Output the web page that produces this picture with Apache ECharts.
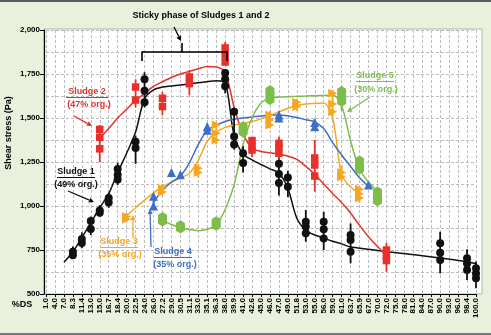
<!DOCTYPE html>
<html><head><meta charset="utf-8">
<script src="https://cdn.jsdelivr.net/npm/echarts@6/dist/echarts.min.js"></script>
<style>html,body{margin:0;padding:0;background:#e9f1dc;} #c{width:491px;height:335px;}</style>
</head><body><div id="c"></div>
<script>
const categories = ['1.0','4.0','7.0','8.3','11.4','13.0','15.0','16.7','18.4','20.0','22.5','24.0','26.0','27.2','29.0','30.5','31.1','33.0','35.1','36.3','38.0','39.9','41.0','42.6','45.0','46.0','47.0','49.0','51.8','53.0','55.0','56.0','59.0','61.0','63.7','65.9','67.0','70.0','72.0','75.0','78.0','81.0','84.0','87.0','90.0','93.0','96.0','98.4','100.0'];
const yTicks = [500, 750, 1000, 1250, 1500, 1750, 2000];

// Sludge 1 (49% org.)
const s1Points = [['8.3',740],['8.3',720],['11.4',812],['11.4',790],['13.0',915],['13.0',870],['15.0',975],['15.0',962],['16.7',1045],['16.7',1020],['18.4',1210],['18.4',1178],['18.4',1150],['22.5',1365],['22.5',1330],['24.0',1720],['24.0',1655],['24.0',1590],['38.0',1756],['38.0',1720],['38.0',1680],['39.9',1535],['39.9',1395],['39.9',1350],['41.0',1300],['41.0',1245],['47.0',1240],['47.0',1182],['47.0',1130],['49.0',1162],['49.0',1110],['53.0',911],['53.0',882],['53.0',845],['56.0',911],['56.0',868],['56.0',816],['63.7',835],['63.7',807],['63.7',740],['90.0',788],['90.0',735],['90.0',693],['98.4',703],['98.4',674],['98.4',636],['100.0',646],['100.0',617],['100.0',589]];
const s1Err = [['8.3',700,770],['11.4',760,850],['13.0',835,940],['15.0',940,1005],['16.7',990,1075],['18.4',1120,1245],['22.5',1240,1400],['24.0',1560,1760],['38.0',1640,1775],['39.9',1320,1560],['41.0',1190,1340],['47.0',1060,1300],['49.0',1050,1200],['53.0',797,977],['56.0',750,967],['63.7',674,901],['90.0',617,854],['98.4',580,754],['100.0',532,684]];
const s1Curve = [['7.0',680],['8.3',740],['11.4',820],['13.0',905],['15.0',990],['16.7',1070],['18.4',1190],['20.0',1300],['22.5',1420],['24.0',1610],['26.0',1660],['27.2',1676],['29.0',1682],['30.5',1688],['31.1',1694],['33.0',1700],['35.1',1706],['36.3',1712],['38.0',1700],['39.9',1400],['41.0',1295],['42.6',1262],['45.0',1236],['46.0',1211],['47.0',1187],['49.0',1100],['51.8',930],['53.0',862],['55.0',835],['56.0',818],['59.0',800],['61.0',785],['63.7',767],['90.0',705],['98.4',683],['100.0',672]];

// Sludge 2 (47% org.)
const s2Points = [['15.0',1435],['15.0',1390],['15.0',1325],['22.5',1676],['22.5',1602],['27.2',1612],['27.2',1565],['31.1',1733],['31.1',1695],['38.0',1898],['38.0',1858],['38.0',1818],['42.6',1372],['42.6',1337],['42.6',1318],['47.0',1356],['47.0',1335],['47.0',1300],['55.0',1273],['55.0',1233],['55.0',1170],['72.0',750],['72.0',718],['72.0',690]];
const s2Err = [['15.0',1250,1460],['22.5',1560,1720],['27.2',1517,1648],['31.1',1630,1773],['38.0',1801,1932],['42.6',1278,1392],['47.0',1244,1394],['55.0',1081,1375],['72.0',627,790]];
const s2Curve = [['15.0',1385],['16.7',1440],['18.4',1500],['20.0',1550],['22.5',1600],['24.0',1640],['26.0',1680],['27.2',1706],['29.0',1730],['30.5',1750],['31.1',1765],['33.0',1780],['35.1',1793],['36.3',1790],['38.0',1760],['39.9',1560],['41.0',1410],['42.6',1330],['45.0',1310],['46.0',1302],['47.0',1295],['49.0',1283],['51.8',1265],['53.0',1225],['55.0',1180],['56.0',1125],['59.0',1070],['61.0',1020],['63.7',960],['65.9',890],['67.0',825],['70.0',770],['72.0',720]];

// Sludge 3 (35% org.)
const s3Points = [['20.0',940],['20.0',925],['27.2',1100],['27.2',1080],['33.0',1215],['33.0',1190],['36.3',1460],['36.3',1413],['36.3',1375],['46.0',1517],['46.0',1489],['46.0',1460],['51.8',1590],['51.8',1565],['59.0',1640],['59.0',1580],['59.0',1535],['61.0',1190],['61.0',1165],['65.9',1095],['65.9',1070],['65.9',1045]];
const s3Err = [['20.0',910,960],['27.2',1060,1125],['33.0',1160,1240],['36.3',1350,1480],['46.0',1440,1540],['51.8',1540,1610],['59.0',1510,1660],['61.0',1140,1233],['65.9',1020,1110]];
const s3Curve = [['20.0',945],['22.5',990],['24.0',1033],['26.0',1075],['27.2',1110],['29.0',1135],['30.5',1160],['31.1',1185],['33.0',1260],['35.1',1368],['36.3',1420],['38.0',1447],['39.9',1460],['41.0',1470],['42.6',1480],['45.0',1495],['46.0',1515],['47.0',1535],['49.0',1555],['51.8',1572],['53.0',1580],['55.0',1583],['56.0',1585],['59.0',1500],['61.0',1180],['63.7',1108],['65.9',1075]];

// Sludge 4 (35% org.)
const s4Points = [['26.0',1055],['26.0',1000],['29.0',1190],['30.5',1178],['35.1',1450],['35.1',1430],['47.0',1517],['47.0',1500],['55.0',1475],['55.0',1450],['67.0',1120]];
const s4Err = [['26.0',985,1070],['29.0',1172,1205],['30.5',1160,1195],['35.1',1410,1470],['47.0',1490,1540],['55.0',1430,1495],['67.0',1100,1135]];
const s4Curve = [['26.0',1020],['27.2',1090],['29.0',1135],['30.5',1170],['31.1',1245],['33.0',1350],['35.1',1430],['36.3',1458],['38.0',1480],['39.9',1493],['41.0',1500],['42.6',1506],['45.0',1512],['46.0',1516],['47.0',1517],['49.0',1512],['51.8',1503],['53.0',1490],['55.0',1478],['56.0',1440],['59.0',1360],['61.0',1290],['63.7',1225],['65.9',1160],['67.0',1110]];

// Sludge 5 (30% org.)
const s5Points = [['27.2',935],['27.2',915],['30.5',888],['30.5',875],['36.3',910],['36.3',890],['41.0',1450],['41.0',1420],['46.0',1655],['46.0',1630],['46.0',1605],['61.0',1650],['61.0',1620],['61.0',1595],['65.9',1255],['65.9',1230],['65.9',1210],['70.0',1080],['70.0',1055],['70.0',1030]];
const s5Err = [['27.2',900,955],['30.5',860,900],['36.3',875,925],['41.0',1390,1470],['46.0',1580,1680],['61.0',1540,1680],['65.9',1190,1280],['70.0',1010,1100]];
const s5Curve = [['27.2',920],['29.0',895],['30.5',878],['31.1',866],['33.0',860],['35.1',868],['36.3',892],['38.0',980],['39.9',1120],['41.0',1350],['42.6',1500],['45.0',1585],['46.0',1613],['47.0',1618],['49.0',1621],['51.8',1623],['53.0',1625],['55.0',1627],['56.0',1628],['59.0',1630],['61.0',1570],['63.7',1370],['65.9',1210],['67.0',1135],['70.0',1085]];

const C1 = '#111111', C2 = '#e8302a', C3 = '#f5a623', C4 = '#3d6fc6', C5 = '#7dbe4b';
const FONT = '"Liberation Sans", Arial, sans-serif';
const GRID = '#bdbdbd';

function curve(data, color) {
  return { type: 'line', data: data, smooth: 0.3, symbol: 'none', z: 2,
    lineStyle: { color: color, width: 1.5 }, silent: true };
}
function pts(data, color, symbol, size, rot) {
  return { type: 'scatter', data: data, symbol: symbol, symbolSize: size, symbolRotate: rot || 0, z: 4,
    itemStyle: { color: color, opacity: 1 }, silent: true };
}
function err(data, color) {
  return { type: 'custom', data: data, z: 3, silent: true,
    encode: { x: 0, y: [1, 2] },
    renderItem: function (params, api) {
      const x = api.value(0);
      const lo = api.coord([x, api.value(1)]);
      const hi = api.coord([x, api.value(2)]);
      return { type: 'line', shape: { x1: lo[0], y1: lo[1], x2: hi[0], y2: hi[1] },
        style: { stroke: color, lineWidth: 1.8 } };
    } };
}
function arrow(x1, y1, x2, y2, color) {
  const a = Math.atan2(y2 - y1, x2 - x1), L = 5, W = 2.6;
  const bx = x2 - L * Math.cos(a), by = y2 - L * Math.sin(a);
  const px = -Math.sin(a) * W, py = Math.cos(a) * W;
  return [
    { type: 'line', z: 100, shape: { x1: x1, y1: y1, x2: bx, y2: by }, style: { stroke: color, lineWidth: 1.3 } },
    { type: 'polygon', z: 100, shape: { points: [[x2, y2], [bx + px, by + py], [bx - px, by - py]] }, style: { fill: color } }
  ];
}
function txt(x, y, s, color, size, rot) {
  return { type: 'text', z: 100, x: x, y: y, rotation: rot || 0,
    style: { text: s, fill: color, font: 'bold ' + (size || 9) + 'px ' + FONT,
      textAlign: 'center', textVerticalAlign: 'middle', align: 'center', verticalAlign: 'middle' } };
}
function uline(x1, x2, y, color) {
  return { type: 'line', z: 100, shape: { x1: x1, y1: y, x2: x2, y2: y }, style: { stroke: color, lineWidth: 1 } };
}

const graphic = [
  { type: 'rect', z: -1, shape: { x: 44, y: 29, width: 438, height: 265 }, style: { fill: '#ffffff', stroke: '#b0b0b0', lineWidth: 1 } },
  { type: 'rect', z: 100, shape: { x: 0, y: 0, width: 491, height: 2 }, style: { fill: '#5a5a5a' } },
  { type: 'rect', z: 100, shape: { x: 0, y: 333, width: 491, height: 2 }, style: { fill: '#7a7a7a' } },
  txt(201, 16, 'Sticky phase of Sludges 1 and 2', '#000', 9),
  { type: 'polyline', z: 100, shape: { points: [[142, 61], [142, 52], [227, 52], [227, 61]] }, style: { stroke: '#000', lineWidth: 1.6, fill: null } },
  { type: 'line', z: 100, shape: { x1: 182, y1: 52, x2: 182, y2: 43 }, style: { stroke: '#000', lineWidth: 1.6 } },
  ...arrow(174, 27, 181, 41, '#000'),
  txt(9, 133, 'Shear stress (Pa)', '#000', 9, Math.PI / 2),
  txt(22, 305, '%DS', '#000', 9),
  txt(76, 172, 'Sludge 1', C1), uline(57, 95, 177.5, C1), txt(76, 185, '(49% org.)', C1),
  ...arrow(68, 191, 94, 202, C1),
  txt(87, 92, 'Sludge 2', C2), uline(66, 108, 97.5, C2), txt(89, 105, '(47% org.)', C2),
  ...arrow(74, 116, 92, 126, C2),
  txt(119, 242, 'Sludge 3', C3), uline(100, 138, 247.5, C3), txt(120, 255, '(35% org.)', C3),
  ...arrow(133, 238, 133, 215, C3),
  txt(173, 252, 'Sludge 4', C4), uline(154, 192, 257.5, C4), txt(175, 265, '(35% org.)', C4),
  ...arrow(151, 247, 150, 209, C4),
  txt(375, 76, 'Sludge 5', C5), uline(356, 394, 81.5, C5), txt(376, 90, '(30% org.)', C5),
  ...arrow(370, 97, 347, 112, C5)
];

const chart = echarts.init(document.getElementById('c'), null, { renderer: 'canvas' });
chart.setOption({
  backgroundColor: '#e9f1dc',
  animation: false,
  grid: { left: 46, right: 15, top: 30, bottom: 41 },
  xAxis: {
    type: 'category', data: categories, boundaryGap: false,
    axisLine: { lineStyle: { color: '#000', width: 1.2 } },
    axisTick: { show: true, interval: 0, length: 3, lineStyle: { color: '#000' } },
    axisLabel: { interval: 0, rotate: 90, margin: 4, color: '#000', fontSize: 8, fontWeight: 'bold', fontFamily: FONT },
    splitLine: { show: true, interval: 0, lineStyle: { color: GRID, type: [3, 2], width: 1 } }
  },
  yAxis: {
    type: 'value', min: yTicks[0], max: yTicks[yTicks.length - 1], interval: yTicks[1] - yTicks[0], offset: 2,
    axisLine: { show: true, lineStyle: { color: '#000', width: 1.2 } },
    axisTick: { show: true, length: 4, lineStyle: { color: '#000' } },
    axisLabel: { margin: 4, color: '#000', fontSize: 8, fontWeight: 'bold', fontFamily: FONT,
      formatter: function (v) { return v >= 1000 ? Math.floor(v / 1000) + ',' + String(v % 1000).padStart(3, '0') : String(v); } },
    splitLine: { show: true, lineStyle: { color: GRID, type: [3, 2], width: 1 } },
    minorTick: { show: false, splitNumber: 2 },
    minorSplitLine: { show: true, lineStyle: { color: GRID, type: [3, 2], width: 1 } }
  },
  graphic: graphic,
  series: [
    curve(s1Curve, C1), err(s1Err, C1), pts(s1Points, C1, 'circle', 8),
    curve(s2Curve, C2), err(s2Err, C2), pts(s2Points, C2, 'rect', 7.5),
    curve(s3Curve, C3), err(s3Err, C3), pts(s3Points, C3, 'triangle', 9, -90),
    curve(s4Curve, C4), err(s4Err, C4), pts(s4Points, C4, 'triangle', 9),
    curve(s5Curve, C5), err(s5Err, C5), pts(s5Points, C5, 'path://M5,0L10,3L10,9L5,12L0,9L0,3Z', [9, 11])
  ]
});
</script></body></html>
